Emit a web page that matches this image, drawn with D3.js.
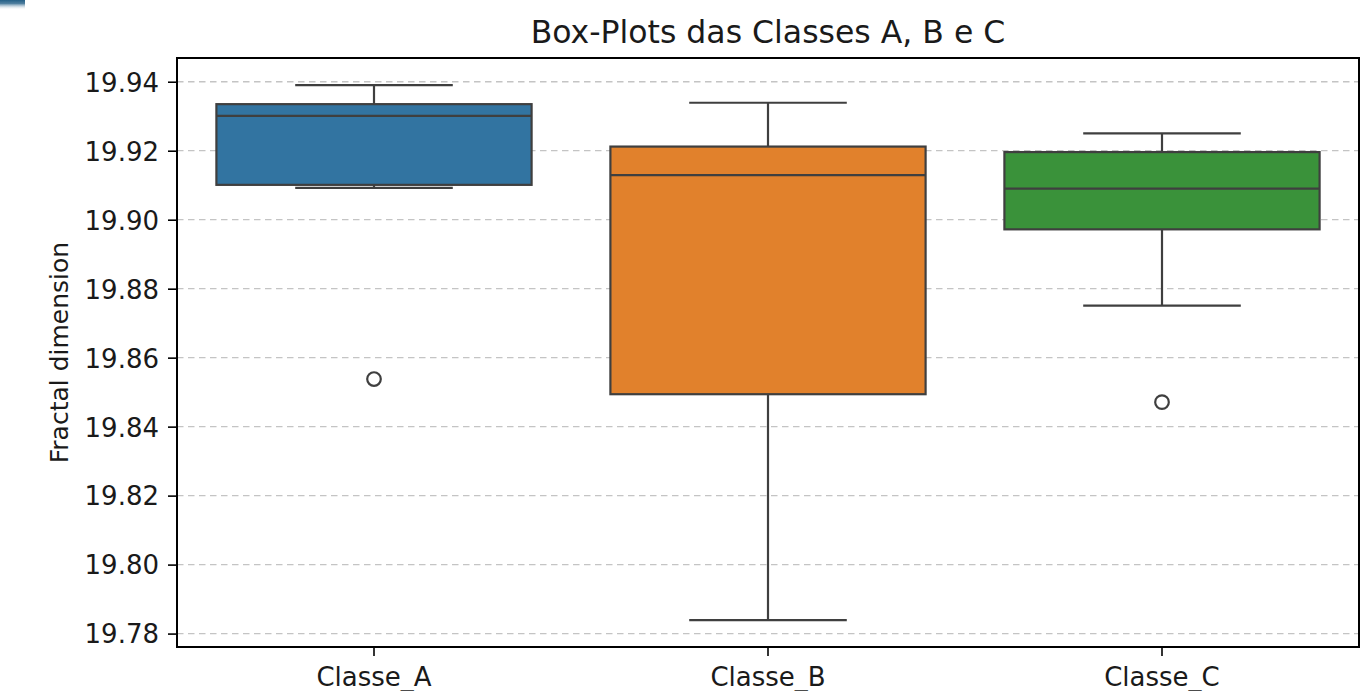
<!DOCTYPE html>
<html>
<head>
<meta charset="utf-8">
<script src="https://cdn.jsdelivr.net/npm/d3@7"></script>
<style>
  html, body { margin: 0; padding: 0; background: #ffffff; }
  svg { display: block; font-family: "DejaVu Sans", sans-serif; }
</style>
</head>
<body>
<svg id="chart" width="1366" height="691"></svg>
<script>
// Box-plot summaries per class
const classes = ["Classe_A", "Classe_B", "Classe_C"];
const whiskerLow  = [19.9092, 19.7839, 19.8751];
const q1          = [19.9101, 19.8494, 19.8972];
const median      = [19.9301, 19.9129, 19.9090];
const q3          = [19.9335, 19.9212, 19.9196];
const whiskerHigh = [19.9390, 19.9339, 19.9250];
const outliers    = [[19.8538], [], [19.8471]];
const boxColors   = ["#3274a1", "#e1812c", "#3a923a"];
const yTicks      = [19.78, 19.80, 19.82, 19.84, 19.86, 19.88, 19.90, 19.92, 19.94];

const svg = d3.select("#chart");
const W = 1366, H = 691;
const m = { left: 177, right: W - 1359, top: 58, bottom: H - 647 };
const iw = W - m.left - m.right, ih = H - m.top - m.bottom;

// small window-chrome strip in the top-left corner
const defs = svg.append("defs");
const grad = defs.append("linearGradient").attr("id", "corner").attr("x1", 0).attr("y1", 0).attr("x2", 0).attr("y2", 1);
grad.append("stop").attr("offset", "0%").attr("stop-color", "#235f86");
grad.append("stop").attr("offset", "35%").attr("stop-color", "#4f7f9f");
grad.append("stop").attr("offset", "100%").attr("stop-color", "#ffffff").attr("stop-opacity", 0);
svg.append("rect").attr("x", 0).attr("y", 0).attr("width", 25).attr("height", 10).attr("fill", "url(#corner)");

const g = svg.append("g").attr("transform", `translate(${m.left},${m.top})`);

const x = d3.scaleBand().domain(classes).range([0, iw]).paddingInner(0).paddingOuter(0);
const y = d3.scaleLinear().domain([19.77611, 19.94688]).range([ih, 0]);

const boxW = x.bandwidth() * 0.8;
const capW = boxW / 2;
const lineCol = "#3f3f3f";
const lw = 2.2;

// dashed horizontal grid behind the boxes
g.append("g").selectAll("line").data(yTicks).join("line")
  .attr("x1", 0).attr("x2", iw)
  .attr("y1", d => y(d)).attr("y2", d => y(d))
  .attr("stroke", "#c4c4c4").attr("stroke-width", 1.3)
  .attr("stroke-dasharray", "6.5,4.5");

const boxes = g.append("g").selectAll("g").data(classes).join("g")
  .attr("transform", d => `translate(${x(d) + x.bandwidth() / 2},0)`);

// whiskers
boxes.append("line")
  .attr("x1", 0).attr("x2", 0)
  .attr("y1", (d, i) => y(q3[i])).attr("y2", (d, i) => y(whiskerHigh[i]))
  .attr("stroke", lineCol).attr("stroke-width", lw);
boxes.append("line")
  .attr("x1", 0).attr("x2", 0)
  .attr("y1", (d, i) => y(q1[i])).attr("y2", (d, i) => y(whiskerLow[i]))
  .attr("stroke", lineCol).attr("stroke-width", lw);
boxes.append("line")
  .attr("x1", -capW / 2).attr("x2", capW / 2)
  .attr("y1", (d, i) => y(whiskerHigh[i])).attr("y2", (d, i) => y(whiskerHigh[i]))
  .attr("stroke", lineCol).attr("stroke-width", lw);
boxes.append("line")
  .attr("x1", -capW / 2).attr("x2", capW / 2)
  .attr("y1", (d, i) => y(whiskerLow[i])).attr("y2", (d, i) => y(whiskerLow[i]))
  .attr("stroke", lineCol).attr("stroke-width", lw);

// interquartile boxes
boxes.append("rect")
  .attr("x", -boxW / 2).attr("width", boxW)
  .attr("y", (d, i) => y(q3[i]))
  .attr("height", (d, i) => y(q1[i]) - y(q3[i]))
  .attr("fill", (d, i) => boxColors[i])
  .attr("stroke", lineCol).attr("stroke-width", lw);

// medians
boxes.append("line")
  .attr("x1", -boxW / 2).attr("x2", boxW / 2)
  .attr("y1", (d, i) => y(median[i])).attr("y2", (d, i) => y(median[i]))
  .attr("stroke", lineCol).attr("stroke-width", lw);

// outliers
boxes.each(function (d, i) {
  d3.select(this).selectAll("circle").data(outliers[i]).join("circle")
    .attr("cx", 0).attr("cy", v => y(v)).attr("r", 6.8)
    .attr("fill", "none").attr("stroke", lineCol).attr("stroke-width", 2.2);
});

// axes
const yAxis = g.append("g").call(d3.axisLeft(y).tickValues(yTicks).tickFormat(d3.format(".2f")).tickSize(9).tickPadding(9));
const xAxis = g.append("g").attr("transform", `translate(0,${ih})`)
  .call(d3.axisBottom(x).tickSize(9).tickPadding(6));
[yAxis, xAxis].forEach(a => {
  a.select(".domain").remove();
  a.selectAll(".tick line").attr("stroke", "#000").attr("stroke-width", 1.6);
  a.selectAll(".tick text").attr("fill", "#1a1a1a").style("font-size", "26px").style("font-family", "DejaVu Sans");
});
xAxis.selectAll(".tick text").attr("dy", "0.93em");
yAxis.selectAll(".tick text").attr("dy", "0.36em");

// frame
g.append("rect").attr("x", 0).attr("y", 0).attr("width", iw).attr("height", ih)
  .attr("fill", "none").attr("stroke", "#000").attr("stroke-width", 2);

// title and axis label
svg.append("text").attr("x", m.left + iw / 2).attr("y", 43)
  .attr("text-anchor", "middle").attr("fill", "#1a1a1a")
  .style("font-size", "31.5px").text("Box-Plots das Classes A, B e C");
svg.append("text")
  .attr("transform", `translate(68,${m.top + ih / 2}) rotate(-90)`)
  .attr("text-anchor", "middle").attr("fill", "#1a1a1a")
  .style("font-size", "25px").text("Fractal dimension");
</script>
</body>
</html>
